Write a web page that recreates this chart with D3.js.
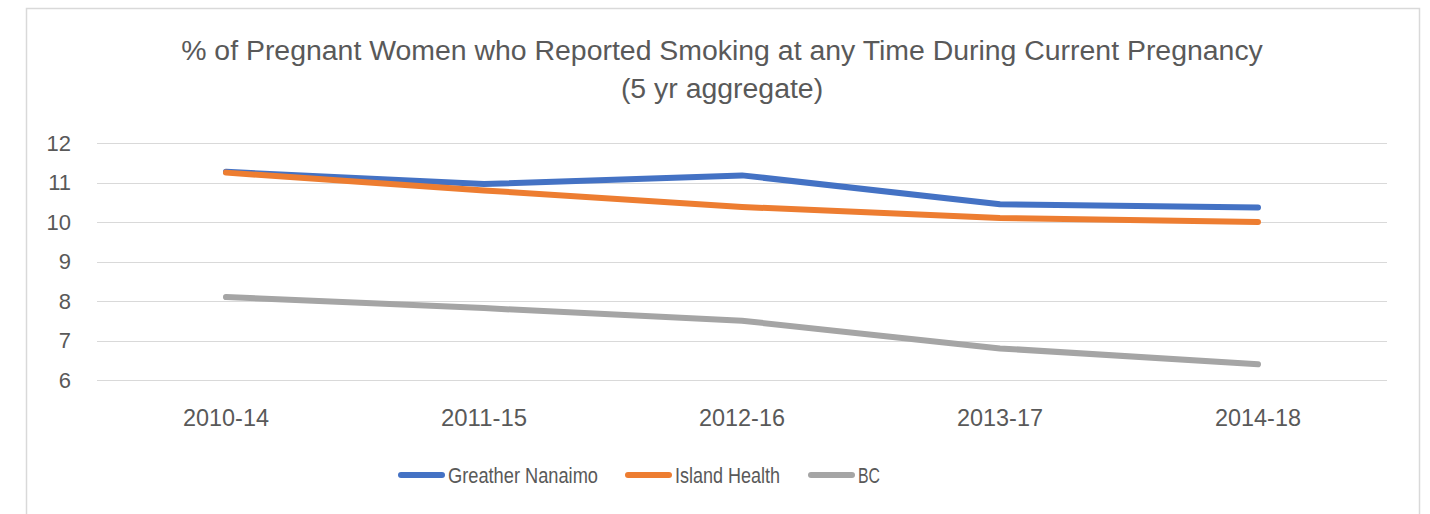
<!DOCTYPE html>
<html><head><meta charset="utf-8">
<script src="https://cdn.jsdelivr.net/npm/d3@7"></script>
<style>html,body{margin:0;padding:0;background:#fff;}svg{display:block;}</style>
</head><body>
<svg id="c" width="1430" height="514"></svg>
<script>
const categories = ["2010-14","2011-15","2012-16","2013-17","2014-18"];
const nanaimo = [11.27, 10.96, 11.18, 10.45, 10.37];
const islandHealth = [11.25, 10.80, 10.38, 10.10, 10.00];
const bc = [8.10, 7.82, 7.50, 6.80, 6.40];
const seriesNames = ["Greather Nanaimo","Island Health","BC"];
const seriesColors = ["#4472C4","#ED7D31","#A5A5A5"];
const yTicks = [6,7,8,9,10,11,12];
const titleLines = ["% of Pregnant Women who Reported Smoking at any Time During Current Pregnancy","(5 yr aggregate)"];

const series = [nanaimo, islandHealth, bc];
const svg = d3.select("#c");
const font = "'Liberation Sans', Arial, sans-serif";
const textColor = "#595959";

svg.append("rect").attr("x",26.5).attr("y",8.5).attr("width",1393).attr("height",520)
  .attr("fill","#fff").attr("stroke","#d9d9d9").attr("stroke-width",1.5);

const left = 97, right = 1387;
const x = d3.scaleBand().domain(categories).range([left, right]);
const y = d3.scaleLinear().domain([6,12]).range([380, 143]);

function fit(sel, target){
  const w = sel.node().getComputedTextLength();
  const fs = parseFloat(sel.attr("font-size"));
  sel.attr("font-size", fs*target/w);
}

// title
const t1 = svg.append("text").attr("x",722).attr("y",60).attr("text-anchor","middle")
  .attr("font-family",font).attr("font-size",22).attr("fill",textColor).text(titleLines[0]);
fit(t1, 1082);
svg.append("text").attr("x",722).attr("y",98).attr("text-anchor","middle")
  .attr("font-family",font).attr("font-size",t1.attr("font-size")).attr("fill",textColor).text(titleLines[1]);

// gridlines
svg.append("g").selectAll("line").data(yTicks).join("line")
  .attr("x1",left).attr("x2",right).attr("y1",d=>Math.round(y(d))+0.5).attr("y2",d=>Math.round(y(d))+0.5)
  .attr("stroke","#d9d9d9").attr("stroke-width",1.2);

// y axis labels
const yAxis = d3.axisLeft(y).tickValues(yTicks).tickFormat(d3.format("d")).tickSize(0).tickPadding(0);
const gy = svg.append("g").attr("transform","translate(71,0)").call(yAxis);
gy.select(".domain").remove();
gy.selectAll("text").attr("font-family",font).attr("font-size",22).attr("fill",textColor);

// x axis labels
const xAxis = d3.axisBottom(x).tickSize(0).tickPadding(0);
const gx = svg.append("g").attr("transform","translate(0,409)").call(xAxis);
gx.select(".domain").remove();
gx.selectAll("text").attr("font-family",font).attr("font-size",22).attr("fill",textColor);
gx.selectAll("text").each(function(){ fit(d3.select(this), 86); });

// lines
const line = d3.line().x((d,i)=>x(categories[i])+x.bandwidth()/2).y(d=>y(d));
series.forEach((s,k)=>{
  svg.append("path").datum(s).attr("d",line).attr("fill","none")
    .attr("stroke",seriesColors[k]).attr("stroke-width",6)
    .attr("stroke-linecap","round").attr("stroke-linejoin","round");
});

// legend
const legX = [401, 628, 811];
const legW = [150, 105, 22];
const lg = svg.append("g");
seriesNames.forEach((n,k)=>{
  lg.append("line").attr("x1",legX[k]).attr("x2",legX[k]+41).attr("y1",475).attr("y2",475)
    .attr("stroke",seriesColors[k]).attr("stroke-width",6).attr("stroke-linecap","round");
  lg.append("text").attr("x",legX[k]+47).attr("y",483).attr("font-family",font)
    .attr("font-size",22).attr("fill",textColor)
    .attr("textLength",legW[k]).attr("lengthAdjust","spacingAndGlyphs").text(n);
});
</script>
</body></html>
